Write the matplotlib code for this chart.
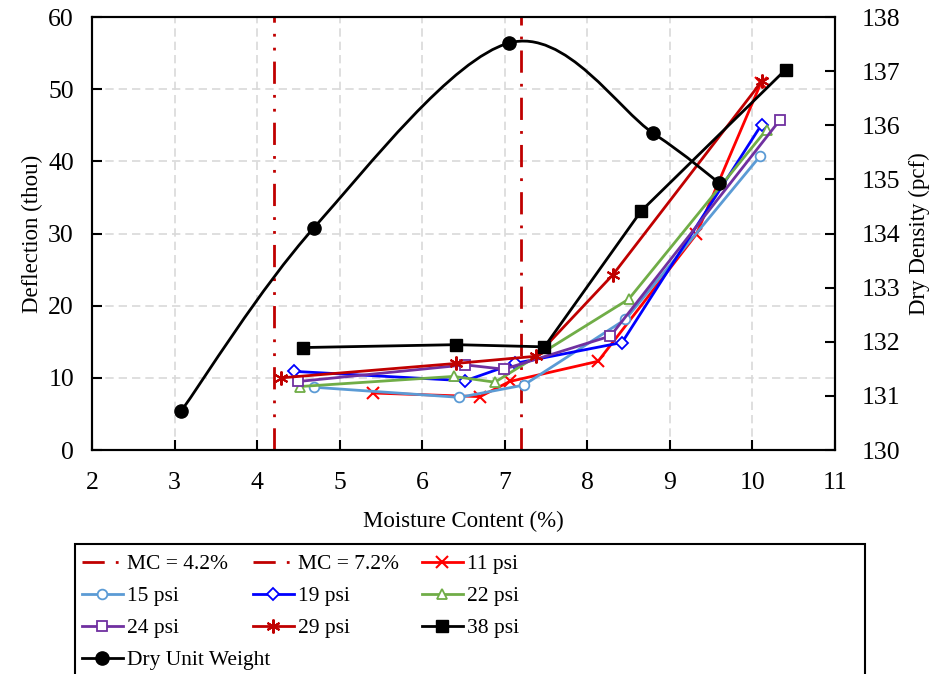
import matplotlib
matplotlib.use("Agg")
import matplotlib.pyplot as plt
from matplotlib.path import Path
from matplotlib.patches import PathPatch, Rectangle
from matplotlib.lines import Line2D

plt.rcParams['font.family'] = ['Liberation Serif', 'DejaVu Serif']

# deflection (thou) vs moisture content (%) for each tire pressure
mc_11 = [5.40, 6.70, 7.06, 8.13, 9.32, 10.10]
def_11 = [7.9, 7.4, 9.5, 12.3, 29.9, 50.8]

mc_15 = [4.69, 6.45, 7.23, 8.46, 10.09]
def_15 = [8.7, 7.3, 9.0, 18.1, 40.7]

mc_19 = [4.45, 6.52, 7.12, 8.42, 10.11]
def_19 = [10.9, 9.6, 12.0, 14.9, 45.1]

mc_22 = [4.52, 6.38, 6.88, 8.50, 10.17]
def_22 = [8.8, 10.2, 9.4, 20.9, 44.4]

mc_24 = [4.50, 6.52, 6.99, 8.28, 10.33]
def_24 = [9.5, 11.8, 11.2, 15.8, 45.7]

mc_29 = [4.29, 6.41, 7.38, 8.31, 10.12]
def_29 = [10.0, 12.0, 13.0, 24.3, 51.2]

mc_38 = [4.55, 6.41, 7.48, 8.65, 10.40]
def_38 = [14.2, 14.6, 14.3, 33.1, 52.7]

# dry unit weight (pcf), right axis
mc_dry = [3.08, 4.69, 7.05, 8.80, 9.60]
dry_density = [130.72, 134.11, 137.52, 135.85, 134.93]

mc_limits = [4.2, 7.2]

fig = plt.figure(figsize=(9.35, 6.74), dpi=100)
ax = fig.add_axes([0.0984, 0.3323, 0.7947, 0.6424])
ax2 = ax.twinx()

red_dark = '#C00000'
series = [
    (mc_11, def_11, '11 psi', '#FF0000', dict(marker='x', ms=9, mew=1.5)),
    (mc_15, def_15, '15 psi', '#5B9BD5', dict(marker='o', ms=7, mfc='white', mew=1.3)),
    (mc_19, def_19, '19 psi', '#0000FF', dict(marker='D', ms=6, mfc='white', mew=1.3)),
    (mc_22, def_22, '22 psi', '#70AD47', dict(marker='^', ms=7.5, mfc='white', mew=1.3)),
    (mc_24, def_24, '24 psi', '#7030A0', dict(marker='s', ms=7, mfc='white', mew=1.3)),
    (mc_29, def_29, '29 psi', red_dark, dict(marker=(6, 2, 0), ms=10, mew=1.5)),
    (mc_38, def_38, '38 psi', 'black', dict(marker='s', ms=8.5)),
]

handles = {}
for x, y, name, col, mk in series:
    h, = ax.plot(x, y, color=col, lw=2, label=name, **mk)
    handles[name] = h

ls_42 = (0, (8, 4, 1, 4, 1, 4))
ls_72 = (0, (8, 4, 1, 4))
handles['MC = 4.2%'] = ax.axvline(mc_limits[0], color=red_dark, lw=2, ls=ls_42, zorder=1)
handles['MC = 7.2%'] = ax.axvline(mc_limits[1], color=red_dark, lw=2, ls=ls_72, zorder=1)

# smoothed dry density curve (cardinal bezier through the points)
pts = list(zip(mc_dry, dry_density))
verts = [pts[0]]
codes = [Path.MOVETO]
n = len(pts)
for i in range(n - 1):
    p0 = pts[max(i - 1, 0)]
    p1 = pts[i]
    p2 = pts[i + 1]
    p3 = pts[min(i + 2, n - 1)]
    c1 = (p1[0] + (p2[0] - p0[0]) / 6, p1[1] + (p2[1] - p0[1]) / 6)
    c2 = (p2[0] - (p3[0] - p1[0]) / 6, p2[1] - (p3[1] - p1[1]) / 6)
    verts += [c1, c2, p2]
    codes += [Path.CURVE4] * 3
ax2.add_patch(PathPatch(Path(verts, codes), fill=False, ec='black', lw=2))
ax2.plot(mc_dry, dry_density, 'o', color='black', ms=9.5)
handles['Dry Unit Weight'] = Line2D([], [], color='black', lw=2, marker='o', ms=9.5)

ax.set_xlim(2, 11)
ax.set_ylim(0, 60)
ax2.set_ylim(130, 138)
ax.set_xticks(range(2, 12))
ax.set_yticks(range(0, 61, 10))
ax2.set_yticks(range(130, 139))

ax.grid(True, color='#D9D9D9', ls=(0, (5, 3)), lw=1.2)
ax.set_axisbelow(True)

ax.tick_params(axis='both', direction='in', length=7, width=1.5, labelsize=18.5)
ax.tick_params(axis='x', pad=16)
ax.tick_params(axis='y', pad=13)
ax2.tick_params(axis='y', direction='in', length=7, width=1.5, labelsize=18.5, pad=19)
for a in (ax, ax2):
    for sp in a.spines.values():
        sp.set_linewidth(1.5)

ax.set_xlabel('Moisture Content (%)', fontsize=16.5, labelpad=12)
ax.set_ylabel('Deflection (thou)', fontsize=16.5, labelpad=4)
ax2.set_ylabel('Dry Density (pcf)', fontsize=16.5, labelpad=6)

# legend: three columns inside one frame
columns = [
    ['MC = 4.2%', '15 psi', '24 psi', 'Dry Unit Weight'],
    ['MC = 7.2%', '19 psi', '29 psi'],
    ['11 psi', '22 psi', '38 psi'],
]
col_x = [82, 253, 422]
for cx, names in zip(col_x, columns):
    fig.legend([handles[k] for k in names], names, loc='upper left',
               bbox_to_anchor=(cx / 935, 1 - 554 / 674), frameon=False,
               fontsize=15.5, handlelength=1.9, handletextpad=0.2,
               labelspacing=0.56, borderpad=0, borderaxespad=0)
fig.add_artist(Rectangle((75 / 935, -0.05), 790 / 935, 0.05 + 1 - 544 / 674,
                         transform=fig.transFigure, fill=False, ec='black', lw=1.5))

fig.savefig('out.png', dpi=100)
